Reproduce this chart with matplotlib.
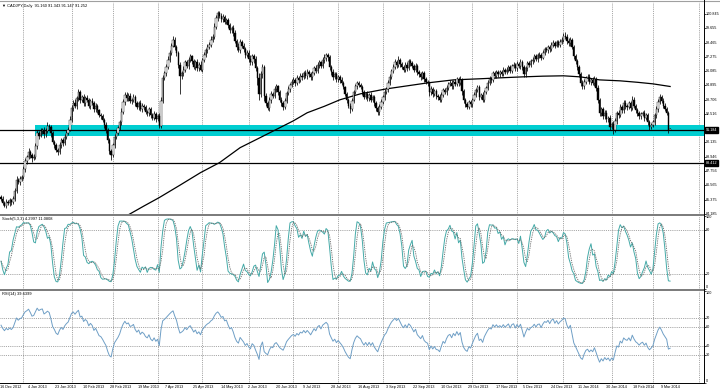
import numpy as np
import pandas as pd
import matplotlib
matplotlib.use("Agg")
import matplotlib.pyplot as plt
from matplotlib.lines import Line2D

# ---------------- data ----------------
first_open = 85.60
closes = [
    85.45, 85.10, 84.85, 85.20, 85.05, 85.30, 85.15, 85.40, 86.10, 87.00,
    86.80, 87.10, 87.25, 87.90, 88.60, 88.90, 89.35, 89.10, 88.80, 88.95,
    89.80, 90.90, 90.70, 91.05, 91.20, 90.80, 91.10, 91.50, 91.40, 90.90,
    90.20, 89.90, 89.50, 89.35, 89.90, 90.30, 90.10, 90.60, 90.95, 91.20,
    92.00, 93.00, 93.40, 93.20, 93.80, 94.30, 93.70, 93.90, 93.40, 93.80,
    93.65, 93.20, 93.60, 93.40, 92.90, 93.20, 92.80, 92.40, 92.30, 92.00,
    91.60, 91.20, 90.30, 89.40, 89.10, 89.90, 90.60, 90.95, 91.30, 91.80,
    92.70, 93.50, 94.10, 93.80, 94.00, 93.60, 93.70, 93.95, 93.40, 93.10,
    93.40, 92.90, 93.20, 93.05, 92.70, 92.55, 92.90, 92.40, 92.20, 92.50,
    92.10, 92.30, 91.50, 93.60, 95.50, 95.90, 96.40, 97.00, 97.60, 98.20,
    98.70, 98.10, 97.60, 96.60, 95.70, 95.90, 96.20, 96.80, 96.50, 97.00,
    97.30, 96.90, 96.45, 96.80, 96.30, 96.60, 96.20, 97.00, 97.40, 97.80,
    98.10, 98.30, 98.70, 98.95, 99.80, 100.50, 100.90, 100.70, 100.40, 100.60,
    100.20, 100.35, 99.90, 99.50, 99.70, 99.25, 98.60, 98.10, 97.85, 98.50,
    98.20, 97.90, 97.40, 97.60, 97.10, 96.80, 97.30, 97.05, 96.30, 95.50,
    94.20, 95.80, 96.40, 94.00, 93.40, 93.00, 93.70, 94.20, 94.00, 94.60,
    94.80, 94.30, 93.70, 93.40, 93.10, 93.60, 94.25, 94.60, 94.90, 95.20,
    95.35, 95.10, 95.50, 95.30, 95.70, 95.60, 95.95, 95.70, 96.00, 95.80,
    95.55, 95.90, 96.30, 96.10, 96.60, 96.80, 96.50, 97.00, 97.20, 97.40,
    97.25, 96.40, 96.00, 95.60, 95.80, 95.40, 95.60, 95.35, 95.10, 94.75,
    94.20, 93.70, 93.20, 92.90, 93.60, 94.30, 94.80, 95.10, 94.90, 94.75,
    94.30, 93.95, 94.20, 93.80, 94.10, 93.70, 93.95, 93.40, 93.00, 92.65,
    93.10, 93.50, 93.90, 94.30, 94.55, 95.10, 95.60, 96.10, 96.45, 96.80,
    96.60, 97.00, 96.70, 96.40, 96.20, 96.60, 96.35, 96.90, 96.75, 96.50,
    96.20, 96.50, 96.00, 95.80, 95.60, 95.90, 95.40, 95.20, 95.10, 94.30,
    94.60, 94.20, 94.40, 94.00, 93.95, 93.70, 94.10, 94.50, 94.30, 94.70,
    95.00, 95.10, 94.80, 95.20, 95.00, 95.40, 95.10, 95.35, 94.40, 93.70,
    93.30, 93.10, 93.50, 93.30, 93.70, 94.10, 94.50, 94.75, 93.95, 94.10,
    93.70, 94.30, 94.70, 95.10, 95.40, 95.30, 95.90, 95.70, 96.00, 95.80,
    96.00, 95.85, 96.20, 96.00, 96.20, 96.40, 96.10, 96.50, 96.60, 96.30,
    96.70, 96.50, 96.85, 96.40, 95.80, 96.30, 96.75, 96.60, 96.90, 97.00,
    97.30, 97.10, 97.40, 97.45, 97.20, 97.60, 97.90, 97.85, 98.10, 97.90,
    98.30, 98.45, 98.20, 98.50, 98.30, 98.55, 98.70, 99.00, 98.95, 98.60,
    98.40, 98.70, 98.10, 97.30, 96.90, 96.40, 95.80, 95.10, 94.80, 95.20,
    95.50, 95.60, 95.20, 95.35, 95.10, 95.40, 94.70, 93.70, 92.60, 92.90,
    92.30, 92.60, 92.05, 92.20, 91.45, 91.70, 91.20, 91.90, 92.60, 92.40,
    93.10, 92.80, 93.45, 93.20, 93.10, 93.40, 93.00, 93.70, 93.20, 92.80,
    92.60, 92.30, 92.50, 92.60, 92.20, 92.40, 91.80, 91.45, 91.60, 91.80,
    92.40, 92.90, 93.50, 93.90, 93.60, 93.20, 92.90, 92.60, 91.16, 91.25,
]
# upper / lower shadow lengths, in hundredths of a yen
upper_wick = [
    15, 20, 12, 18, 10, 22, 14, 25, 20, 30, 18, 22, 15, 28, 25, 20, 30, 18, 15, 22,
    25, 30, 20, 28, 18, 25, 22, 30, 20, 15, 18, 12, 20, 15, 25, 18, 22, 20, 25, 20,
    30, 28, 25, 35, 20, 30, 22, 18, 25, 20, 28, 22, 15, 20, 18, 25, 12, 15, 20, 18,
    15, 20, 12, 18, 15, 22, 20, 25, 18, 22, 30, 25, 28, 20, 22, 25, 18, 20, 15, 22,
    18, 25, 20, 15, 22, 18, 20, 15, 18, 22, 20, 18, 25, 30, 28, 22, 25, 30, 20, 25,
    30, 20, 18, 15, 25, 22, 30, 20, 18, 25, 22, 15, 20, 18, 25, 22, 30, 20, 25, 22,
    25, 20, 28, 22, 30, 25, 20, 18, 25, 22, 20, 15, 18, 22, 15, 20, 25, 18, 30, 22,
    18, 20, 15, 25, 20, 30, 22, 18, 25, 20, 40, 30, 25, 20, 22, 15, 25, 20, 18, 22,
    20, 15, 18, 22, 20, 25, 18, 20, 15, 22, 20, 18, 25, 15, 20, 22, 18, 20, 25, 15,
    22, 20, 18, 25, 20, 22, 15, 25, 30, 20, 18, 15, 20, 22, 18, 20, 15, 18, 20, 15,
    12, 18, 15, 20, 25, 22, 20, 18, 15, 20, 18, 22, 15, 20, 18, 22, 15, 18, 20, 15,
    20, 22, 18, 25, 20, 22, 25, 18, 20, 25, 22, 30, 20, 18, 22, 20, 25, 18, 20, 15,
    18, 22, 15, 20, 18, 22, 15, 20, 18, 15, 22, 18, 20, 15, 18, 20, 22, 18, 20, 22,
    18, 20, 22, 15, 20, 18, 22, 35, 15, 20, 18, 22, 15, 20, 18, 22, 20, 15, 18, 15,
    20, 22, 18, 20, 25, 18, 22, 20, 18, 15, 20, 18, 22, 15, 20, 18, 15, 20, 22, 18,
    20, 15, 25, 18, 20, 22, 18, 20, 15, 22, 18, 20, 15, 22, 18, 20, 22, 18, 20, 15,
    18, 22, 15, 20, 18, 22, 20, 25, 35, 20, 22, 25, 15, 18, 20, 15, 22, 18, 20, 25,
    18, 20, 22, 15, 20, 25, 18, 20, 15, 22, 18, 20, 25, 18, 22, 15, 20, 25, 18, 20,
    22, 18, 25, 20, 15, 22, 18, 30, 20, 18, 22, 15, 20, 18, 22, 15, 20, 18, 15, 22,
    20, 25, 22, 25, 18, 20, 22, 18, 15, 9,
]
lower_wick = [
    18, 15, 10, 20, 15, 18, 22, 15, 12, 20, 15, 18, 22, 15, 20, 25, 18, 22, 30, 15,
    18, 20, 25, 15, 22, 30, 18, 20, 25, 30, 22, 20, 18, 25, 15, 20, 22, 18, 15, 20,
    15, 18, 22, 20, 25, 18, 30, 22, 20, 25, 18, 20, 25, 18, 22, 20, 25, 18, 22, 20,
    25, 30, 22, 25, 40, 20, 22, 18, 20, 15, 18, 20, 22, 18, 25, 20, 22, 18, 25, 20,
    22, 18, 20, 25, 18, 22, 20, 25, 18, 20, 22, 18, 20, 15, 20, 18, 22, 15, 20, 18,
    15, 22, 25, 30, 150, 25, 20, 22, 18, 25, 20, 22, 18, 25, 20, 22, 15, 18, 20, 15,
    18, 15, 20, 18, 15, 20, 22, 18, 25, 20, 22, 18, 25, 20, 22, 25, 20, 22, 18, 25,
    20, 22, 25, 18, 25, 20, 22, 30, 25, 60, 50, 25, 30, 40, 25, 20, 22, 25, 20, 18,
    22, 25, 20, 25, 22, 18, 20, 15, 22, 18, 20, 22, 18, 20, 15, 22, 18, 20, 25, 18,
    20, 22, 18, 20, 15, 22, 18, 20, 22, 25, 30, 20, 25, 22, 18, 20, 22, 25, 18, 20,
    22, 25, 20, 30, 18, 20, 15, 22, 18, 20, 25, 18, 22, 20, 25, 18, 22, 20, 25, 25,
    20, 15, 18, 20, 15, 22, 18, 20, 15, 18, 22, 20, 25, 18, 22, 20, 25, 20, 22, 20,
    22, 20, 25, 18, 22, 20, 25, 18, 22, 30, 20, 25, 18, 22, 25, 20, 18, 20, 15, 18,
    20, 15, 22, 18, 20, 15, 22, 18, 30, 25, 22, 20, 18, 22, 20, 15, 18, 20, 25, 22,
    20, 18, 15, 20, 18, 22, 15, 18, 20, 22, 18, 20, 15, 18, 20, 22, 18, 20, 15, 18,
    20, 18, 22, 20, 20, 18, 22, 15, 18, 20, 15, 18, 22, 20, 18, 15, 20, 18, 22, 20,
    15, 18, 20, 15, 22, 18, 20, 15, 18, 22, 20, 25, 18, 22, 25, 20, 22, 25, 20, 18,
    20, 22, 18, 25, 20, 22, 25, 28, 22, 25, 20, 25, 22, 18, 25, 20, 35, 22, 20, 25,
    18, 22, 20, 25, 22, 20, 25, 18, 22, 20, 25, 22, 18, 20, 25, 20, 22, 25, 18, 20,
    18, 20, 22, 18, 20, 22, 18, 20, 25, 1,
]

# moving average line (bar index, value)
ma_index = [74, 83, 92, 104, 116, 127, 139, 150, 162, 170, 178, 188, 197, 209, 224,
            236, 248, 263, 278, 290, 303, 315, 327, 337, 348, 360, 370, 379, 389]
ma_value = [84.10, 84.83, 85.54, 86.57, 87.62, 88.45, 89.70, 90.49, 91.36, 91.94,
            92.61, 93.15, 93.69, 94.19, 94.60, 94.85, 95.10, 95.35, 95.44, 95.52,
            95.60, 95.66, 95.69, 95.60, 95.35, 95.27, 95.15, 95.02, 94.80]

# average gain / loss carried in from the bars before the first one shown
rsi_seed_gain, rsi_seed_loss = 0.30, 0.17

date_labels = ["16 Dec 2012", "4 Jan 2013", "23 Jan 2013", "10 Feb 2013", "28 Feb 2013",
               "19 Mar 2013", "7 Apr 2013", "25 Apr 2013", "14 May 2013", "2 Jun 2013",
               "20 Jun 2013", "9 Jul 2013", "28 Jul 2013", "16 Aug 2013", "3 Sep 2013",
               "22 Sep 2013", "10 Oct 2013", "29 Oct 2013", "17 Nov 2013", "5 Dec 2013",
               "24 Dec 2013", "11 Jan 2014", "30 Jan 2014", "18 Feb 2014", "9 Mar 2014"]
date_label_step = 16
month_grid = [13, 41, 65, 91, 117, 144, 170, 196, 222, 249, 274, 300, 327, 355, 379, 406]

price_ticks = [100.845, 99.655, 98.465, 97.275, 96.085, 94.895, 93.706, 92.516,
               90.135, 88.946, 87.756, 86.565, 85.375, 84.185]
hline_levels = [91.184, 88.412]
zone_low, zone_high, zone_start = 90.65, 91.57, 20
stoch_levels = [80, 20]
rsi_levels = [70, 60, 40, 30]

header = "\u25bc CADJPY,Daily  91.160 91.343 91.147 91.252"
stoch_title = "Stoch(5,3,3) 4.2997 11.0808"
rsi_title = "RSI(14) 39.6399"

# ---------------- derived series ----------------
c = np.array(closes, dtype=float)
n = len(c)
assert len(upper_wick) == n and len(lower_wick) == n, (n, len(upper_wick), len(lower_wick))
o = np.r_[first_open, c[:-1]]
h = np.maximum(o, c) + np.array(upper_wick) / 100.0
l = np.minimum(o, c) - np.array(lower_wick) / 100.0
x = np.arange(n)

cs, hs, ls = pd.Series(c), pd.Series(h), pd.Series(l)
ll5 = ls.rolling(5, min_periods=1).min()
hh5 = hs.rolling(5, min_periods=1).max()
k = 100 * (cs - ll5).rolling(3, min_periods=1).sum() / (hh5 - ll5).rolling(3, min_periods=1).sum()
d = k.rolling(3, min_periods=1).mean()

delta = np.diff(np.r_[first_open, c])
ag, al = rsi_seed_gain, rsi_seed_loss
rsi = np.empty(n)
for i, dv in enumerate(delta):
    ag = (ag * 13 + max(dv, 0)) / 14
    al = (al * 13 + max(-dv, 0)) / 14
    rsi[i] = 100 * ag / (ag + al)

# ---------------- figure layout (pixel based) ----------------
W, H = 720, 389
fig = plt.figure(figsize=(7.2, 3.89), dpi=100)
fig.patch.set_facecolor("white")

def fax(top, bottom, right=704):
    return fig.add_axes([0, 1 - bottom / H, right / W, (bottom - top) / H])

ax = fax(2, 214)
ax_s = fax(215.5, 288.5)
ax_r = fax(290.5, 382.5)

xlim = (-0.6, 408.7)
FONT = ["Liberation Sans", "DejaVu Sans"]
FS = 2.7
LX = 1.003

for a in (ax, ax_s, ax_r):
    a.set_xlim(*xlim)
    a.set_facecolor("none")
    for s in a.spines.values():
        s.set_visible(False)
    a.set_xticks([])
    a.yaxis.tick_right()
    a.tick_params(axis="y", length=1.5, width=0.5, labelright=False, pad=0)
    for g in month_grid:
        a.axvline(g, color="#707070", lw=0.5, ls=(0, (1.2, 1.5)), zorder=0.2)

# ---- main price panel ----
ax.set_ylim(84.17, 101.843)
ax.fill_between([zone_start, xlim[1]], zone_low, zone_high, color="#00CED1", lw=0, zorder=0.5)
for lv in hline_levels:
    ax.axhline(lv, color="black", lw=0.9, zorder=0.8)
ax.plot(ma_index, ma_value, color="black", lw=0.9, zorder=1)
ax.vlines(x, l, h, color="black", lw=0.55, zorder=2)
up = c >= o
ax.bar(x[up], (c - o)[up], bottom=o[up], width=0.8, color="white", edgecolor="black", lw=0.3, zorder=3)
ax.bar(x[~up], (o - c)[~up], bottom=c[~up], width=0.8, color="black", edgecolor="black", lw=0.3, zorder=3)
ax.set_yticks(price_ticks + hline_levels)
ytr = ax.get_yaxis_transform()
for v in price_ticks:
    ax.text(LX, v, f"{v:.3f}", transform=ytr, fontsize=FS, family=FONT,
            va="center", ha="left", clip_on=False)
for v in hline_levels:
    ax.text(LX, v, f"{v:.3f}", transform=ytr, fontsize=FS, family=FONT, color="white",
            va="center", ha="left", clip_on=False,
            bbox=dict(facecolor="black", edgecolor="black", pad=0.5))
ax.text(0.003, 0.982, header, transform=ax.transAxes, fontsize=2.9, family=FONT,
        va="center", ha="left")

# ---- stochastic panel ----
ax_s.set_ylim(0, 100)
for lv in stoch_levels:
    ax_s.axhline(lv, color="#707070", lw=0.5, ls=(0, (1.2, 1.5)), zorder=0.2)
ax_s.plot(x, k, color="#45aaa8", lw=0.7, zorder=2)
ax_s.plot(x, d, color="#6a6a6a", lw=0.6, ls=(0, (1.5, 1.2)), zorder=2)
ax_s.set_yticks([100, 80, 20, 0])
ytr = ax_s.get_yaxis_transform()
for v, va in ((100, "top"), (80, "center"), (20, "center"), (0, "bottom")):
    ax_s.text(LX, v, str(v), transform=ytr, fontsize=FS, family=FONT,
              va=va, ha="left", clip_on=False)
ax_s.text(0.003, 0.95, stoch_title, transform=ax_s.transAxes, fontsize=2.9, family=FONT,
          va="center", ha="left")

# ---- RSI panel ----
ax_r.set_ylim(0, 100)
for lv in rsi_levels:
    ax_r.axhline(lv, color="#707070", lw=0.5, ls=(0, (1.2, 1.5)), zorder=0.2)
ax_r.plot(x, rsi, color="#6f9fc6", lw=0.7, zorder=2)
ax_r.set_yticks([100] + rsi_levels + [0])
ytr = ax_r.get_yaxis_transform()
for v in [100] + rsi_levels + [0]:
    va = "top" if v == 100 else ("bottom" if v == 0 else "center")
    ax_r.text(LX, v, str(v), transform=ytr, fontsize=FS, family=FONT,
              va=va, ha="left", clip_on=False)
ax_r.text(0.003, 0.965, rsi_title, transform=ax_r.transAxes, fontsize=2.9, family=FONT,
          va="center", ha="left")

# date labels along the bottom
xtr = ax_r.get_xaxis_transform()
for j, lab in enumerate(date_labels):
    xi = j * date_label_step
    ax_r.text(xi - 0.4, -0.03, lab, transform=xtr, fontsize=FS, family=FONT,
              va="top", ha="left", clip_on=False)

# frame lines: panel separators, right price axis, bottom time axis
def hline_px(y, x0, x1, color, lw):
    fig.add_artist(Line2D([x0 / W, x1 / W], [1 - y / H, 1 - y / H], color=color, lw=lw,
                          transform=fig.transFigure))

hline_px(0.5, 0, 720, "#a0a0a0", 0.8)
hline_px(214.6, 0, 704, "#7a7a7a", 1.4)
hline_px(289.5, 0, 704, "#7a7a7a", 1.4)
hline_px(382.6, 0, 704, "black", 0.7)
fig.add_artist(Line2D([704 / W, 704 / W], [1 - 382.6 / H, 1.0], color="black", lw=0.7,
                      transform=fig.transFigure))

fig.savefig("out.png", dpi=100, facecolor="white")
